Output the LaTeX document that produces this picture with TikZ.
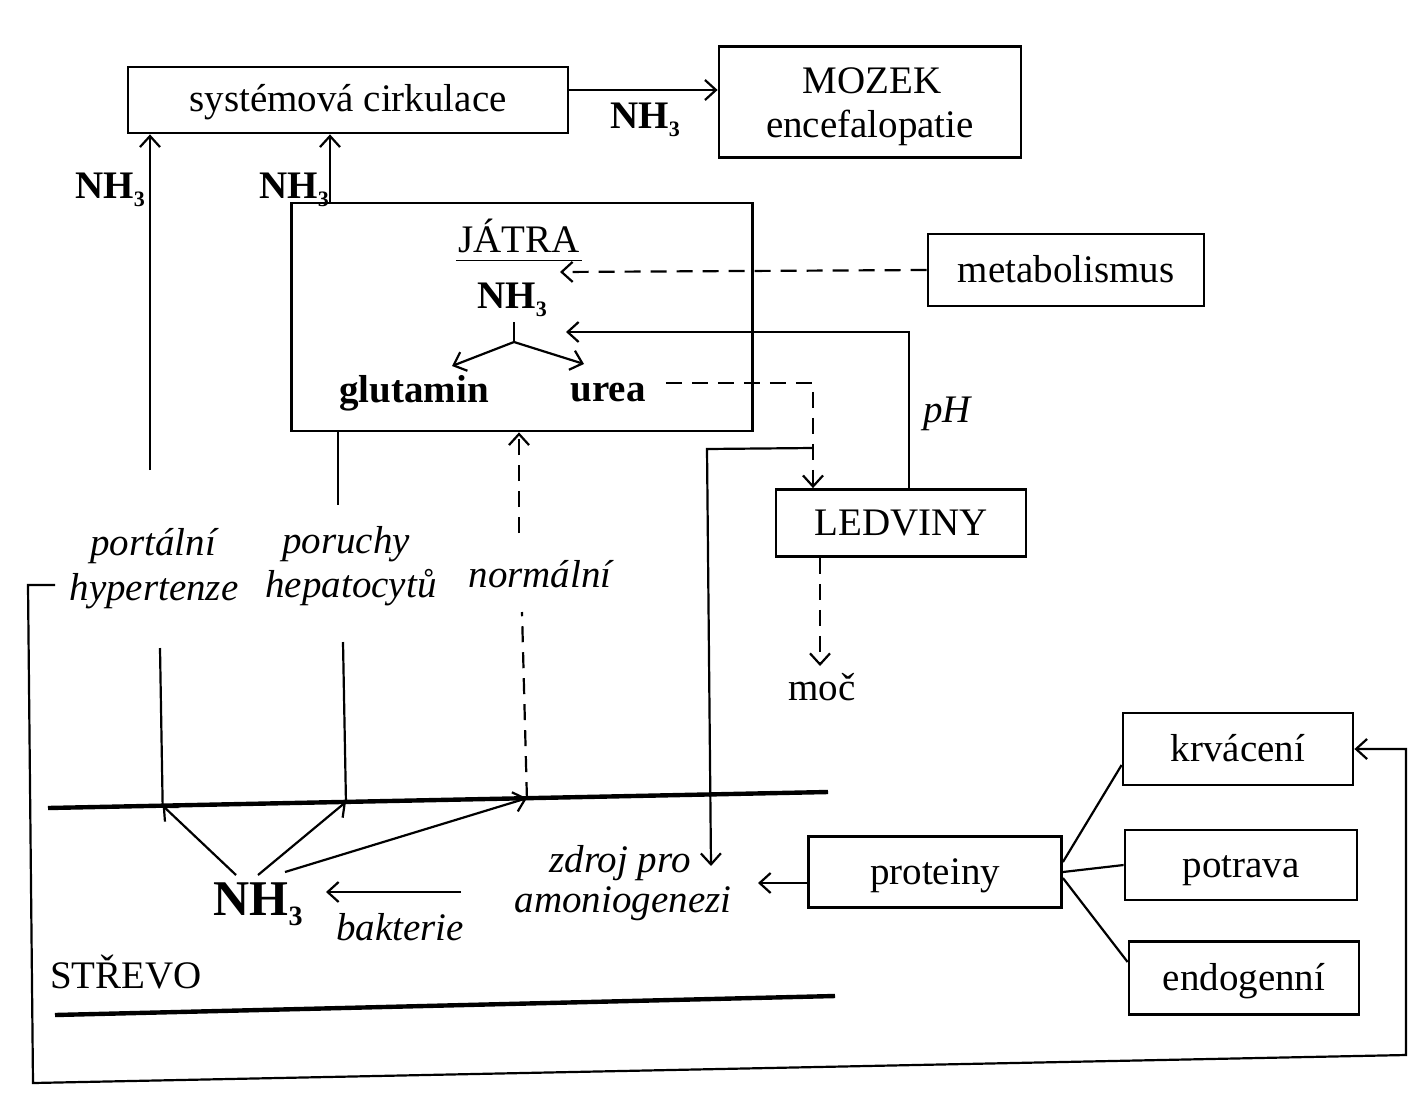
\documentclass[tikz,border=0pt]{standalone}
\usepackage{fontspec}
\setmainfont{Liberation Serif}
\usetikzlibrary{arrows.meta,calc}
\newcommand{\nhthree}{\textbf{NH\raisebox{-0.45ex}{\fontsize{11}{11}\selectfont 3}}}
\begin{document}
\begin{tikzpicture}[x=0.5pt,y=-0.5pt,
  every node/.style={inner sep=0pt, font=\fontsize{19.5}{18}\selectfont, text height=15pt, text depth=3pt},
  box/.style={draw, line width=1.4pt, rectangle, align=center},
  tight/.style={text height=13pt, text depth=3pt},
  bold/.style={font=\bfseries\fontsize{19.5}{18}\selectfont},
  ital/.style={font=\itshape\fontsize{19.5}{18}\selectfont},
  arr/.style={line width=1.1pt, -{Straight Barb[length=5.5pt,width=10pt,line width=1.1pt]}},
  darr/.style={arr, dash pattern=on 8pt off 5pt},
  dline/.style={line width=1.1pt, dash pattern=on 8pt off 5pt},
  sline/.style={line width=1.1pt},
  wall/.style={line width=2.2pt},
  ]
\fill[white] (0,0) rectangle (1411,1097);
\useasboundingbox (0,0) rectangle (1411,1097);

% boxes
\node[box, minimum width=220pt, minimum height=33pt] (sys) at (348,100) {systémová cirkulace};
\node[box, minimum width=151pt, minimum height=55.5pt] (moz) at (870,102) {};
\node[tight] (moz1) at (872,83) {MOZEK};
\node[tight] (moz2) at (870,127) {encefalopatie};
\node[box, minimum width=230.5pt, minimum height=114pt] (jat) at (522,317) {};
\node[box, minimum width=138pt, minimum height=36pt] (met) at (1066,270) {metabolismus};
\node[box, minimum width=125pt, minimum height=33.5pt] (led) at (901,523) {LEDVINY};
\node[box, minimum width=126.5pt, minimum height=35.5pt] (prot) at (935,872) {proteiny};
\node[box, minimum width=115pt, minimum height=36pt] (krv) at (1238,749) {krvácení};
\node[box, minimum width=116pt, minimum height=35pt] (pot) at (1241,865) {potrava};
\node[box, minimum width=115pt, minimum height=36.5pt] (endo) at (1244,978) {endogenní};

% labels
\node (nhA) at (645,116) {\nhthree};
\node (nhB) at (110,186) {\nhthree};
\node (nhC) at (294,186) {\nhthree};
\node (jt) at (519,240) {JÁTRA};
\node (nhJ) at (512,296) {\nhthree};
\node[bold] (glu) at (414,390) {glutamin};
\node[bold] (urea) at (608,389) {urea};
\node[ital] (ph) at (947,410) {pH};
\node (moc) at (822,688) {moč};
\node[ital] (port) at (153,543) {portální};
\node[ital] (hyp) at (154,588) {hypertenze};
\node[ital] (por) at (346,541) {poruchy};
\node[ital] (hep) at (351,585) {hepatocytů};
\node[ital] (norm) at (540,575) {normální};
\node[font=\bfseries\fontsize{25}{25}\selectfont] (nhS) at (258,903) {NH\raisebox{-0.45ex}{\fontsize{14}{14}\selectfont 3}};
\node[ital] (bak) at (400,928) {bakterie};
\node[ital] (zd1) at (620,860) {zdroj pro};
\node[ital] (zd2) at (623,900) {amoniogenezi};
\node (str) at (126,976) {STŘEVO};

% underline of JATRA
\draw[line width=0.8pt] ([xshift=-1pt,yshift=-1pt]jt.south west) -- ([xshift=1pt,yshift=-1pt]jt.south east);

% top connectors
\draw[arr] ([yshift=5pt]sys.east) -- ([yshift=5pt]sys.east -| moz.west);
\coordinate (a1) at (150,470);
\draw[arr] (a1) -- (a1 |- sys.south);
\coordinate (a2) at (330,0);
\draw[arr] (a2 |- jat.north) -- (a2 |- sys.south);
\coordinate (b2) at (338,505);
\draw[sline] (b2 |- jat.south) -- (b2);

% intestine walls
\coordinate (g1) at (48,808);
\coordinate (g2) at (828,792);
\draw[wall] (g1) -- (g2);
\draw[wall] (55,1015) -- (835,996);
\coordinate (h1) at ($(g1)!0.147!(g2)$);
\coordinate (h2) at ($(g1)!0.382!(g2)$);
\coordinate (h3) at ($(g1)!0.614!(g2)$);
\coordinate (l1) at (160,648);
\draw[sline] (l1) -- (h1);
\coordinate (l2) at (343,642);
\draw[sline] (l2) -- (h2);
\coordinate (l3) at (522,612);
\draw[dline] (h3) -- (l3);
\coordinate (u3) at (519,533);
\draw[darr] (u3) -- (u3 |- jat.south);

% NH3 in intestine
\coordinate (n1) at (236,875);
\coordinate (n2) at (258,875);
\coordinate (n3) at (285,872);
\draw[arr] (n1) -- (h1);
\draw[arr] (n2) -- (h2);
\draw[arr] (n3) -- (h3);
\coordinate (bk1) at (461,892);
\coordinate (bk2) at (326,892);
\draw[arr] (bk1) -- (bk2);

% proteiny
\coordinate (pz) at (758,883);
\draw[arr] (prot.west |- pz) -- (pz);
\draw[sline] ([yshift=5pt]prot.east) -- ([yshift=-8pt]krv.west);
\draw[sline] (prot.east) -- (pot.west);
\draw[sline] ([yshift=-3pt]prot.east) -- ([yshift=8pt]endo.west);

% big bracket loop
\coordinate (k0) at (55,585);
\coordinate (k1) at (28,585);
\coordinate (k2) at (33,1083);
\coordinate (k3) at (1406,1055);
\draw[arr] (k0) -- (k1) -- (k2) -- (k3) |- (krv.east);

% metabolismus
\coordinate (mt) at (560,272);
\draw[darr] (met.west) -- (mt);

% pH
\coordinate (ph1) at (909,0);
\coordinate (ph2) at (566,332);
\draw[arr] (ph1 |- led.north) |- (ph2);

% urea to kidney
\coordinate (u1) at (813,383);
\draw[darr] ([xshift=10pt]urea.east |- u1) -- (u1) -- (u1 |- led.north);

% kidney back to intestine
\coordinate (s1) at (813,448);
\coordinate (s2) at (707,449);
\coordinate (s3) at (711,866);
\draw[arr] (s1) -- (s2) -- (s3);

% moc
\coordinate (m1) at (820,666);
\draw[darr] (m1 |- led.south) -- (m1);

% Y in liver
\coordinate (y0) at (514,322);
\coordinate (y1) at (514,342);
\coordinate (y2) at (452,366);
\coordinate (y3) at (584,364);
\draw[sline] (y0) -- (y1);
\draw[arr] (y1) -- (y2);
\draw[arr] (y1) -- (y3);
\end{tikzpicture}
\end{document}
